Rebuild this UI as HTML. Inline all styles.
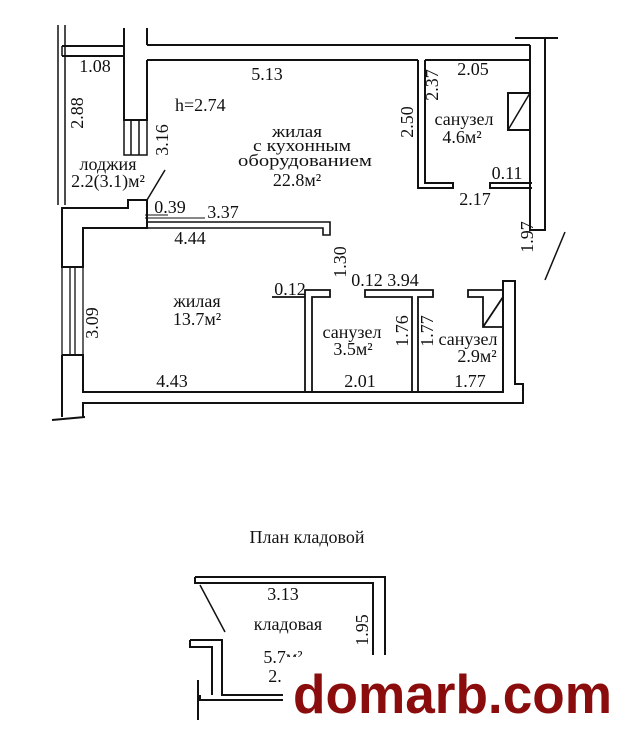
<!DOCTYPE html>
<html><head><meta charset="utf-8"><style>
html,body{margin:0;padding:0;background:#fff}
svg{display:block}
text{font-family:"Liberation Serif",serif;font-size:18px;fill:#111}
.k{font-size:17px}
</style></head><body>
<svg width="630" height="737" viewBox="0 0 630 737" xmlns="http://www.w3.org/2000/svg">
<g fill="none" stroke="#111" stroke-width="2">
<path d="M147 45 L530 45 M147 60 L418 60 M425 60 L530 60"/>
<path d="M124 28 L124 120 L147 120 L147 60 M147 45 L147 28"/>
<path d="M124 120 L124 155 L147 155 L147 120 M131 120 L131 155 M139 120 L139 155" stroke-width="1.5"/>
<path d="M62 46 L124 46 M62 56 L124 56"/>
<path d="M58 25 L58 205 M65 25 L65 205 M62 46 L62 56" stroke-width="1.5"/>
<path d="M530 45 L530 230 L545 230 L545 38 M515 38 L558 38"/>
<path d="M418 60 L418 188 L453 188 L453 183 L425 183 L425 60"/>
<path d="M532 183 L490 183 L490 188 L532 188"/>
<rect x="508" y="93" width="22" height="37"/>
<path d="M508 130 L530 93" stroke-width="1.5"/>
<path d="M545 280 L565 232" stroke-width="1.5"/>
<path d="M62 208 L128 208 L128 200 L147 200 L147 228 L83 228 L83 267 L62 267 Z"/>
<path d="M147 222 L330 222 L330 235 L323 235 L323 228 L147 228" stroke-width="1.6"/>
<path d="M145 215 L168 215 M145 218 L205 218" stroke-width="1"/>
<path d="M147 200 L165 170" stroke-width="1.5"/>
<path d="M62 267 L62 355 M83 267 L83 355 M70 267 L70 355 M75 267 L75 355" stroke-width="1.3"/>
<path d="M62 355 L83 355 L83 392 L503 392 L503 281 L515 281 L515 384 L523 384 L523 403 L83 403 L83 417 M62 355 L62 417 M52 420 L85 417"/>
<path d="M305 392 L305 297 L272 297 M312 392 L312 297 L330 297 L330 290 L305 290 L305 297" stroke-width="1.8"/>
<path d="M412 392 L412 297 L365 297 L365 290 L433 290 L433 297 L418 297 L418 392" stroke-width="1.8"/>
<path d="M503 290 L468 290 L468 297 L483 297 L483 327 L503 327 M483 327 L503 297" stroke-width="1.8"/>
<path d="M195 577 L385 577 L385 655 M195 577 L195 583 L373 583 L373 655"/>
<path d="M200 585 L225 632" stroke-width="1.5"/>
<path d="M190 640 L222 640 L222 695 L290 695 M190 640 L190 647 L212 647 L212 695 M200 695 L200 700 L290 700 M198 680 L198 720"/>
</g>
<text x="95" y="72" text-anchor="middle">1.08</text>
<text x="267" y="80" text-anchor="middle">5.13</text>
<text x="175" y="111">h=2.74</text>
<text transform="translate(83,113) rotate(-90)" text-anchor="middle">2.88</text>
<text transform="translate(168,140) rotate(-90)" text-anchor="middle">3.16</text>
<text class="k" x="272" y="137" textLength="50" lengthAdjust="spacingAndGlyphs">жилая</text>
<text class="k" x="253" y="151" textLength="98" lengthAdjust="spacingAndGlyphs">с кухонным</text>
<text class="k" x="238" y="166" textLength="134" lengthAdjust="spacingAndGlyphs">оборудованием</text>
<text x="297" y="186" text-anchor="middle">22.8м²</text>
<text x="108" y="170" text-anchor="middle">лоджия</text>
<text x="108" y="187" text-anchor="middle">2.2(3.1)м²</text>
<text x="170" y="213" text-anchor="middle">0.39</text>
<text x="223" y="218" text-anchor="middle">3.37</text>
<text x="190" y="244" text-anchor="middle">4.44</text>
<text transform="translate(346,262) rotate(-90)" text-anchor="middle">1.30</text>
<text transform="translate(438,85) rotate(-90)" text-anchor="middle">2.37</text>
<text x="473" y="75" text-anchor="middle">2.05</text>
<text transform="translate(413,122) rotate(-90)" text-anchor="middle">2.50</text>
<text x="464" y="125" text-anchor="middle">санузел</text>
<text x="462" y="143" text-anchor="middle">4.6м²</text>
<text x="507" y="179" text-anchor="middle">0.11</text>
<text x="475" y="205" text-anchor="middle">2.17</text>
<text transform="translate(533,237) rotate(-90)" text-anchor="middle">1.97</text>
<text transform="translate(98,323) rotate(-90)" text-anchor="middle">3.09</text>
<text x="197" y="307" text-anchor="middle">жилая</text>
<text x="197" y="325" text-anchor="middle">13.7м²</text>
<text x="290" y="295" text-anchor="middle">0.12</text>
<text x="385" y="286" text-anchor="middle">0.12 3.94</text>
<text x="352" y="338" text-anchor="middle">санузел</text>
<text x="353" y="355" text-anchor="middle">3.5м²</text>
<text transform="translate(408,331) rotate(-90)" text-anchor="middle">1.76</text>
<text transform="translate(433,331) rotate(-90)" text-anchor="middle">1.77</text>
<text x="468" y="345" text-anchor="middle">санузел</text>
<text x="477" y="362" text-anchor="middle">2.9м²</text>
<text x="172" y="387" text-anchor="middle">4.43</text>
<text x="360" y="387" text-anchor="middle">2.01</text>
<text x="470" y="387" text-anchor="middle">1.77</text>
<text x="307" y="543" text-anchor="middle">План кладовой</text>
<text x="283" y="600" text-anchor="middle">3.13</text>
<text x="288" y="630" text-anchor="middle">кладовая</text>
<text transform="translate(368,630) rotate(-90)" text-anchor="middle">1.95</text>
<text x="283" y="663" text-anchor="middle">5.7м²</text>
<text x="275" y="682" text-anchor="middle">2.</text>
<rect x="283" y="657" width="347" height="66" fill="#fff"/>
<text x="293" y="713" textLength="319" lengthAdjust="spacingAndGlyphs" style="font-family:'Liberation Sans',sans-serif;font-weight:bold;font-size:55px;fill:#8a0c0c">domarb.com</text>
</svg>
</body></html>
